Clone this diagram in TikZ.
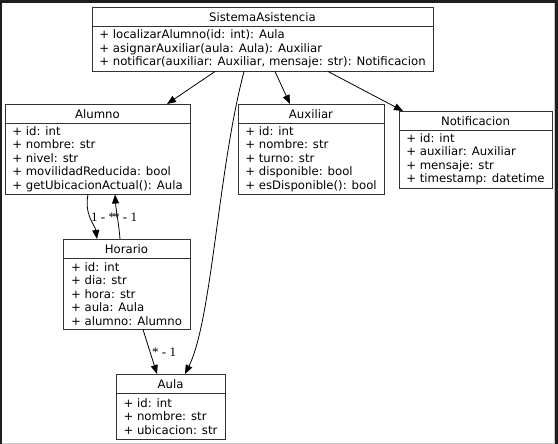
\documentclass[tikz,border=0pt]{standalone}
\usepackage{fontspec}
\setmainfont{DejaVu Sans}
\newfontfamily\labelfont{Liberation Serif}
\usetikzlibrary{arrows.meta,positioning}
\definecolor{framedark}{RGB}{30,30,30}
\definecolor{framegray}{RGB}{200,200,200}
\definecolor{boxline}{RGB}{51,51,51}

\tikzset{
  classhead/.style={draw=boxline, line width=0.9pt, anchor=north west, outer sep=0pt, inner sep=0pt, minimum height=19.5pt, font=\fontsize{11.7}{13.5}\selectfont},
  classbody/.style={draw=boxline, line width=0.9pt, outer sep=0pt, align=left, inner xsep=6pt, inner ysep=0pt, font=\fontsize{11.7}{13.5}\selectfont},
  assoc/.style={-{Triangle[length=9pt,width=7pt]}, line width=0.8pt},
  multlabel/.style={anchor=west, inner sep=0pt, font=\labelfont\fontsize{13}{15}\selectfont}
}

\begin{document}
\begin{tikzpicture}[x=1pt, y=-1pt]
\useasboundingbox (0,0) rectangle (558,444);
% Window frame
\fill[framedark] (0,0) rectangle (558,444);
\fill[white] (2,3) rectangle (555,444);
\draw[framegray, line width=1pt] (2,443.5) -- (554.5,443.5) -- (554.5,3);

% SistemaAsistencia
\node[classhead, minimum width=341pt] (sa) at (92,7) {SistemaAsistencia};
\node[classbody, minimum width=341pt, minimum height=45pt, below=0pt of sa] (sabody) {
+ localizarAlumno(id: int): Aula\\
+ asignarAuxiliar(aula: Aula): Auxiliar\\
+ notificar(auxiliar: Auxiliar, mensaje: str): Notificacion
};

% Alumno
\node[classhead, minimum width=185pt] (alumno) at (5,104) {Alumno};
\node[classbody, minimum width=185pt, minimum height=71pt, below=0pt of alumno] (alumnobody) {
+ id: int\\
+ nombre: str\\
+ nivel: str\\
+ movilidadReducida: bool\\
+ getUbicacionActual(): Aula
};

% Auxiliar
\node[classhead, minimum width=146pt] (auxiliar) at (238,104) {Auxiliar};
\node[classbody, minimum width=146pt, minimum height=71pt, below=0pt of auxiliar] (auxiliarbody) {
+ id: int\\
+ nombre: str\\
+ turno: str\\
+ disponible: bool\\
+ esDisponible(): bool
};

% Notificacion
\node[classhead, minimum width=153pt] (notificacion) at (399,111) {Notificacion};
\node[classbody, minimum width=153pt, minimum height=58pt, below=0pt of notificacion] (notificacionbody) {
+ id: int\\
+ auxiliar: Auxiliar\\
+ mensaje: str\\
+ timestamp: datetime
};

% Horario
\node[classhead, minimum width=127pt] (horario) at (63,239) {Horario};
\node[classbody, minimum width=127pt, minimum height=71pt, below=0pt of horario] (horariobody) {
+ id: int\\
+ dia: str\\
+ hora: str\\
+ aula: Aula\\
+ alumno: Alumno
};

% Aula
\node[classhead, minimum width=109pt] (aula) at (116,374) {Aula};
\node[classbody, minimum width=109pt, minimum height=46pt, below=0pt of aula] (aulabody) {
+ id: int\\
+ nombre: str\\
+ ubicacion: str
};

% Associations from the system
\draw[assoc] ([xshift=123pt]sabody.south west) -- ([xshift=162pt]alumno.north west);
\draw[assoc] ([xshift=183pt]sabody.south west) -- ([xshift=52pt]auxiliar.north west);
\draw[assoc] ([xshift=236pt]sabody.south west) -- ([xshift=4pt]notificacion.north west);
\draw[assoc] ([xshift=152pt]sabody.south west) .. controls (218,170) and (212,320) .. ([xshift=69pt]aula.north west);

% Alumno <-> Horario
\draw[assoc] ([xshift=83pt]alumnobody.south west) .. controls (84,215) and (95,225) .. ([xshift=34pt]horario.north west);
\draw[assoc] ([xshift=57pt]horario.north west) .. controls (119,225) and (116,210) .. ([xshift=110pt]alumnobody.south west);
\node[multlabel] (lblalumhor) at (91,217) {1 - *};
\node[multlabel] (lblhoralum) at (113,217) {* - 1};

% Horario -> Aula
\draw[assoc] ([xshift=80pt]horariobody.south west) -- ([xshift=41pt]aula.north west);
\node[multlabel] (lblhoraula) at (152,352) {* - 1};
\end{tikzpicture}
\end{document}
